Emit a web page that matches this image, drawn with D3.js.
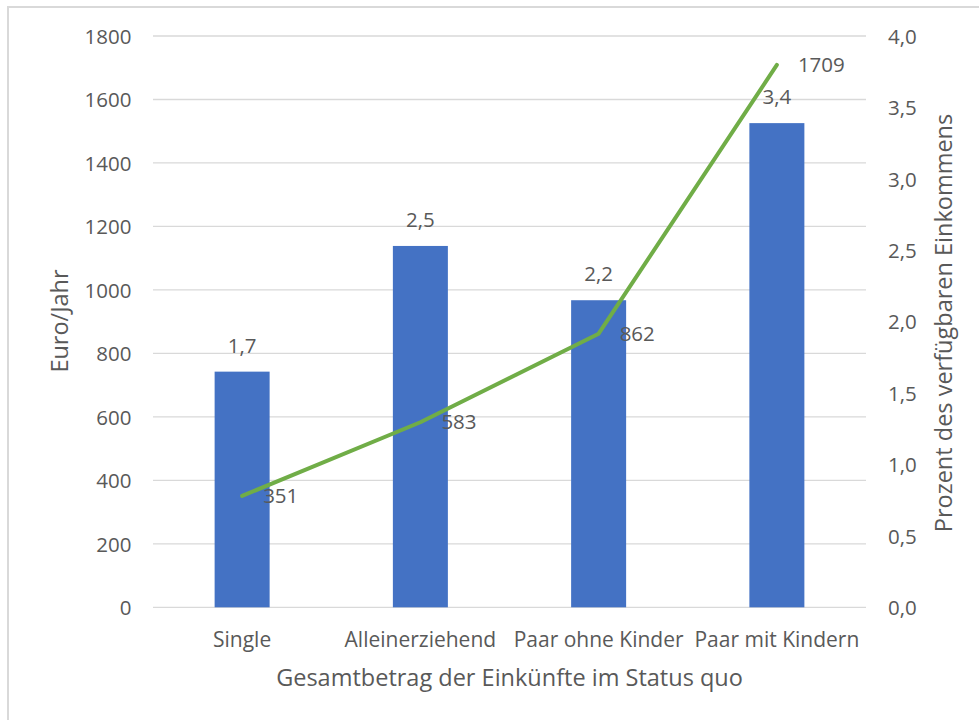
<!DOCTYPE html>
<html><head><meta charset="utf-8">
<script src="https://cdn.jsdelivr.net/npm/d3@7"></script>
<style>
html,body{margin:0;padding:0;background:#fff;}
text{font-family:"Open Sans",sans-serif;fill:#595959;}
</style></head>
<body>
<svg id="c" width="979" height="720"></svg>
<script>
const categories = ["Single","Alleinerziehend","Paar ohne Kinder","Paar mit Kindern"];
const percentValues = [1.65, 2.53, 2.15, 3.39];
const percentLabels = ["1,7","2,5","2,2","3,4"];
const euroValues = [351, 583, 862, 1709];
const leftTicks = [0,200,400,600,800,1000,1200,1400,1600,1800];
const rightTicks = [0,0.5,1,1.5,2,2.5,3,3.5,4];
const leftTitle = "Euro/Jahr";
const rightTitle = "Prozent des verfügbaren Einkommens";
const xTitle = "Gesamtbetrag der Einkünfte im Status quo";

const svg = d3.select("#c");
const plot = {l:153, r:866, t:36, b:607.3};
const fs = 20.5;
const fsTitle = 23.5;

// frame
svg.append("rect").attr("x",8).attr("y",7).attr("width",1100).attr("height",1100)
  .attr("fill","none").attr("stroke","#d9d9d9").attr("stroke-width",2);

const x = d3.scaleBand().domain(categories).range([plot.l, plot.r]).paddingInner(0).paddingOuter(0);
const yL = d3.scaleLinear().domain([0,1800]).range([plot.b, plot.t]);
const yR = d3.scaleLinear().domain([0,4]).range([plot.b, plot.t]);

// gridlines
svg.append("g").selectAll("line").data(leftTicks).join("line")
  .attr("x1",plot.l).attr("x2",plot.r)
  .attr("y1",d=>yL(d)).attr("y2",d=>yL(d))
  .attr("stroke","#d9d9d9").attr("stroke-width",1.3);

// left axis
const axL = d3.axisLeft(yL).tickValues(leftTicks).tickSize(0).tickPadding(0).tickFormat(d=>String(d));
const gL = svg.append("g").attr("transform",`translate(${131.5},0)`).call(axL);
gL.select(".domain").remove();
gL.selectAll("text").attr("font-size",fs).attr("fill","#595959").attr("font-family","Open Sans").attr("dy","0.35em");

// right axis
const fmt = d => d.toFixed(1).replace(".",",");
const axR = d3.axisRight(yR).tickValues(rightTicks).tickSize(0).tickPadding(0).tickFormat(fmt);
const gR = svg.append("g").attr("transform",`translate(${888},0)`).call(axR);
gR.select(".domain").remove();
gR.selectAll("text").attr("font-size",fs).attr("fill","#595959").attr("font-family","Open Sans").attr("dy","0.35em");

// bars
const bw = 55;
svg.append("g").selectAll("rect").data(categories).join("rect")
  .attr("x",d=>x(d)+x.bandwidth()/2-bw/2)
  .attr("width",bw)
  .attr("y",(d,i)=>yR(percentValues[i]))
  .attr("height",(d,i)=>plot.b-yR(percentValues[i]))
  .attr("fill","#4472C4");

// bar labels
svg.append("g").selectAll("text").data(categories).join("text")
  .attr("x",d=>x(d)+x.bandwidth()/2)
  .attr("y",(d,i)=>yR(percentValues[i])-19)
  .attr("text-anchor","middle").attr("font-size",fs)
  .text((d,i)=>percentLabels[i]);

// line
const line = d3.line().x((d,i)=>x(categories[i])+x.bandwidth()/2).y(d=>yL(d));
svg.append("path").datum(euroValues).attr("d",line)
  .attr("fill","none").attr("stroke","#70AD47").attr("stroke-width",4).attr("stroke-linejoin","round").attr("stroke-linecap","round");

// line labels
svg.append("g").selectAll("text").data(euroValues).join("text")
  .attr("x",(d,i)=>x(categories[i])+x.bandwidth()/2+21)
  .attr("y",d=>yL(d)).attr("dy","0.35em").attr("font-size",fs)
  .text(d=>String(d));

// category labels
svg.append("g").selectAll("text").data(categories).join("text")
  .attr("x",d=>x(d)+x.bandwidth()/2).attr("y",647)
  .attr("text-anchor","middle").attr("font-size",21)
  .text(d=>d);

// axis titles
svg.append("text").attr("x",(plot.l+plot.r)/2).attr("y",686)
  .attr("text-anchor","middle").attr("font-size",fsTitle).text(xTitle);
svg.append("text").attr("transform",`translate(68,321) rotate(-90)`)
  .attr("text-anchor","middle").attr("font-size",fsTitle).text(leftTitle);
svg.append("text").attr("transform",`translate(952,323) rotate(-90)`)
  .attr("text-anchor","middle").attr("font-size",fsTitle).text(rightTitle);
</script>
</body></html>
